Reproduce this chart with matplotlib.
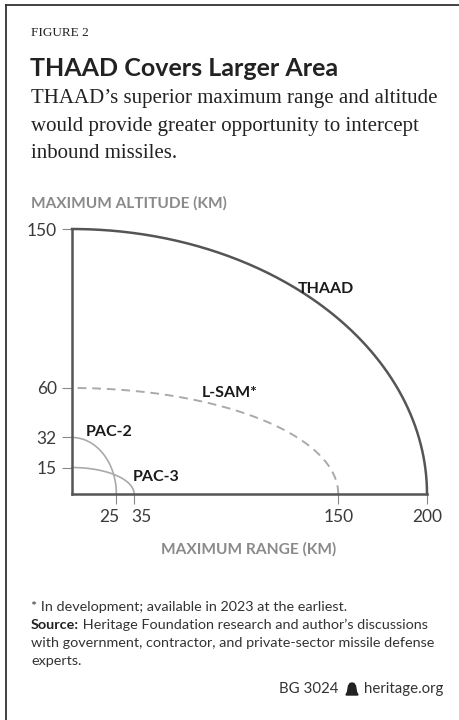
import numpy as np
import matplotlib
matplotlib.use("Agg")
import matplotlib.pyplot as plt
from matplotlib.lines import Line2D
from matplotlib.patches import Polygon
from matplotlib.transforms import ScaledTranslation

# data
systems = ["THAAD", "L-SAM*", "PAC-2", "PAC-3"]
max_range = [200, 150, 25, 35]
max_alt = [150, 60, 32, 15]
x_ticks = [25, 35, 150, 200]
y_ticks = [15, 32, 60, 150]

# label spots (data units)
label_x = [127, 73, 8, 34]
label_y = [116, 57, 35, 9.5]

W, H = 460, 720
fig = plt.figure(figsize=(W / 100, H / 100), dpi=100)
fig.patch.set_facecolor("white")

def px(x, y):
    return x / W, 1 - y / H

sans = ["Lato", "DejaVu Sans"]
serif = ["Liberation Serif", "DejaVu Serif"]

# frame lines (top and left)
fig.add_artist(Line2D([6.5 / W, 1], [1 - 4.5 / H] * 2, color="#333333", lw=1.3))
fig.add_artist(Line2D([6.5 / W] * 2, [0, 1 - 4.5 / H], color="#333333", lw=1.3))

# header text
fig.text(*px(31, 33), "FIGURE 2", family=serif, fontsize=9.5, color="#222222", va="center")
fig.text(*px(30, 68), "THAAD Covers Larger Area", family=sans, fontweight="bold",
         fontsize=18, color="#222222", va="center")
subtitle = ["THAAD\u2019s superior maximum range and altitude",
            "would provide greater opportunity to intercept",
            "inbound missiles."]
for i, line in enumerate(subtitle):
    fig.text(*px(31, 99 + i * 27), line, family=serif, fontsize=15,
             color="#222222", va="center")

fig.text(*px(31, 203), "MAXIMUM ALTITUDE (KM)", family=sans, fontweight="bold",
         fontsize=11.1, color="#8a8a8a", va="center")

# chart
ax = fig.add_axes([72 / W, 1 - 494 / H, 355 / W, 265 / H])
ax.set_xlim(0, 200)
ax.set_ylim(0, 150)
for s in ["top", "right"]:
    ax.spines[s].set_visible(False)
for s in ["left", "bottom"]:
    ax.spines[s].set_color("#555555")
    ax.spines[s].set_linewidth(1.8)

t = np.linspace(0, np.pi / 2, 200)
styles = [
    dict(color="#555555", lw=1.8, ls="-"),
    dict(color="#aaaaaa", lw=1.4, ls=(0, (4.5, 3))),
    dict(color="#aaaaaa", lw=1.2, ls="-"),
    dict(color="#aaaaaa", lw=1.2, ls="-"),
]
for name, r, h, st in zip(systems, max_range, max_alt, styles):
    ax.plot(r * np.cos(t), h * np.sin(t), clip_on=False, **st)

for name, lx, ly in zip(systems, label_x, label_y):
    ax.text(lx, ly, name, family=sans, fontweight="bold", fontsize=11.5,
            color="#1a1a1a", va="center", ha="left")

ax.set_xticks(x_ticks)
ax.set_yticks(y_ticks)
ax.set_xticklabels([str(v) for v in x_ticks], family=sans, fontsize=12.5, color="#3a3a3a")
ax.set_yticklabels([str(v) for v in y_ticks], family=sans, fontsize=12.5, color="#3a3a3a")
ax.tick_params(axis="y", length=7, width=0.8, color="#888888", pad=4)
ax.tick_params(axis="x", length=7, width=0.8, color="#888888", pad=4)
# spread the crowded 25 / 35 labels apart
xl = ax.get_xticklabels()
xl[0].set_ha("right")
xl[0].set_transform(xl[0].get_transform() + ScaledTranslation(3 / 100, 0, fig.dpi_scale_trans))
xl[1].set_ha("left")
xl[1].set_transform(xl[1].get_transform() + ScaledTranslation(-3 / 100, 0, fig.dpi_scale_trans))

ax.set_xlabel("MAXIMUM RANGE (KM)", family=sans, fontweight="bold", fontsize=11.2,
              color="#8a8a8a", labelpad=6)
ax.xaxis.set_label_coords((249 - 72) / 355, -(542 - 494) / 265)

# notes
fs = 10.4
fig.text(*px(31, 607), "* In development; available in 2023 at the earliest.",
         family=sans, fontsize=fs, color="#333333", va="center")
src = fig.text(*px(31, 625), "Source:", family=sans, fontweight="bold", fontsize=fs,
               color="#222222", va="center")
fig.canvas.draw()
bb = src.get_window_extent()
fig.text(bb.x1 / W, 1 - 625 / H, " Heritage Foundation research and author\u2019s discussions",
         family=sans, fontsize=fs, color="#333333", va="center")
fig.text(*px(31, 643), "with government, contractor, and private-sector missile defense",
         family=sans, fontsize=fs, color="#333333", va="center")
fig.text(*px(31, 661), "experts.", family=sans, fontsize=fs, color="#333333", va="center")

fig.text(*px(443, 689), "heritage.org", family=sans, fontsize=10.8, color="#333333",
         va="center", ha="right")
fig.text(*px(338, 689), "BG 3024", family=sans, fontsize=10.8, color="#333333",
         va="center", ha="right")
# small bell logo
bx, by = 352, 689
bell = [(bx - 6, by + 6), (bx + 6, by + 6), (bx + 4.5, by + 3), (bx + 3.5, by - 3),
        (bx + 2, by - 5.5), (bx, by - 6), (bx - 2, by - 5.5), (bx - 3.5, by - 3), (bx - 4.5, by + 3)]
fig.add_artist(Polygon([px(a, b) for a, b in bell], closed=True, color="#222222"))

fig.savefig("out.png", dpi=100, facecolor="white")
